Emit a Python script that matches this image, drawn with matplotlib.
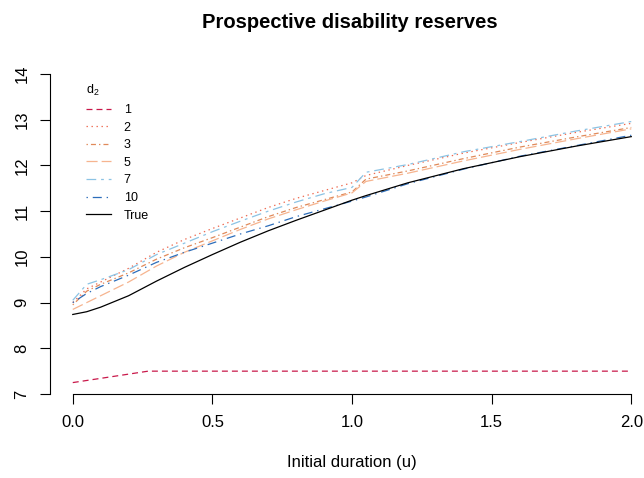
import numpy as np
import matplotlib
matplotlib.use("Agg")
import matplotlib.pyplot as plt

plt.rcParams['font.family'] = ['Liberation Sans', 'DejaVu Sans']
plt.rcParams['mathtext.default'] = 'regular'
plt.rcParams['lines.scale_dashes'] = False

# durations (u) and reserves
u = [0.0, 0.05, 0.1, 0.2, 0.3, 0.4, 0.5, 0.6, 0.7, 0.8, 0.9, 1.0, 1.05, 1.2, 1.4, 1.6, 1.8, 2.0]

u_d1 = [0.0, 0.27, 2.0]
res_d1 = [7.25, 7.5, 7.5]

res_d2 = [9.0, 9.3, 9.45, 9.75, 10.1, 10.38, 10.62, 10.85, 11.08, 11.28, 11.45, 11.62, 11.78, 12.0, 12.27, 12.5, 12.72, 12.92]
res_d3 = [8.95, 9.25, 9.4, 9.65, 9.95, 10.2, 10.42, 10.65, 10.88, 11.08, 11.25, 11.42, 11.7, 11.88, 12.15, 12.4, 12.62, 12.83]
res_d5 = [8.85, 9.0, 9.15, 9.45, 9.8, 10.1, 10.35, 10.6, 10.83, 11.03, 11.22, 11.4, 11.65, 11.83, 12.1, 12.35, 12.58, 12.8]
res_d7 = [9.05, 9.4, 9.5, 9.72, 10.05, 10.3, 10.55, 10.78, 11.0, 11.2, 11.38, 11.52, 11.85, 12.02, 12.3, 12.52, 12.75, 12.96]
res_d10 = [9.0, 9.2, 9.35, 9.6, 9.88, 10.1, 10.3, 10.5, 10.68, 10.88, 11.05, 11.22, 11.31, 11.6, 11.92, 12.2, 12.43, 12.66]
res_true = [8.74, 8.8, 8.9, 9.15, 9.47, 9.77, 10.05, 10.32, 10.57, 10.8, 11.02, 11.24, 11.34, 11.62, 11.93, 12.19, 12.42, 12.63]

fig = plt.figure(figsize=(6.44, 4.78), dpi=100)
ax = fig.add_axes([0.0783, 0.1757, 0.9366, 0.6695])

lw = 0.9
ax.plot(u_d1, res_d1, color='#C9184A', lw=lw, linestyle=(0, (4.3, 2.9)), label='1')
ax.plot(u, res_d2, color='#EE6A50', lw=lw, linestyle=(0, (1.0, 2.6)), label='2')
ax.plot(u, res_d3, color='#E08A5A', lw=lw, linestyle=(0, (1.0, 2.2, 3.6, 2.2)), label='3')
ax.plot(u, res_d5, color='#F6B48F', lw=lw, linestyle=(0, (8.0, 2.9)), label='5')
ax.plot(u, res_d7, color='#8CC3E4', lw=lw, linestyle=(0, (7.0, 3.5, 2.0, 3.5)), label='7')
ax.plot(u, res_d10, color='#2C6DBA', lw=lw, linestyle=(0, (1.0, 3.5, 6.5, 3.5)), label='10')
ax.plot(u, res_true, color='black', lw=lw, label='True')

ax.set_xlim(-0.08, 2.08)
ax.set_ylim(7, 14)
for s in ['top', 'right']:
    ax.spines[s].set_visible(False)
ax.spines['left'].set_bounds(7, 14)
ax.spines['bottom'].set_bounds(0, 2)
ax.spines['left'].set_linewidth(0.8)
ax.spines['bottom'].set_linewidth(0.8)
ax.set_xticks([0.0, 0.5, 1.0, 1.5, 2.0])
ax.set_xticklabels(['0.0', '0.5', '1.0', '1.5', '2.0'])
ax.set_yticks(range(7, 15))
ax.tick_params(length=7, width=0.8, labelsize=12, pad=8)
for lab in ax.get_yticklabels():
    lab.set_rotation(90)
    lab.set_va('center')

ax.set_xlabel('Initial duration (u)', fontsize=12, labelpad=18)
fig.text(0.543, 0.952, 'Prospective disability reserves', ha='center', va='center',
         fontsize=14.5, fontweight='bold')

leg = ax.legend(title=r'd$_2$', loc='upper left', bbox_to_anchor=(80 / 644, 1 - 77 / 478),
                bbox_transform=fig.transFigure, frameon=False, fontsize=9,
                title_fontsize=9, handlelength=2.0, handletextpad=1.0,
                labelspacing=0.45, borderpad=0)
leg._legend_box.align = 'left'

fig.savefig('out.png', dpi=100)
